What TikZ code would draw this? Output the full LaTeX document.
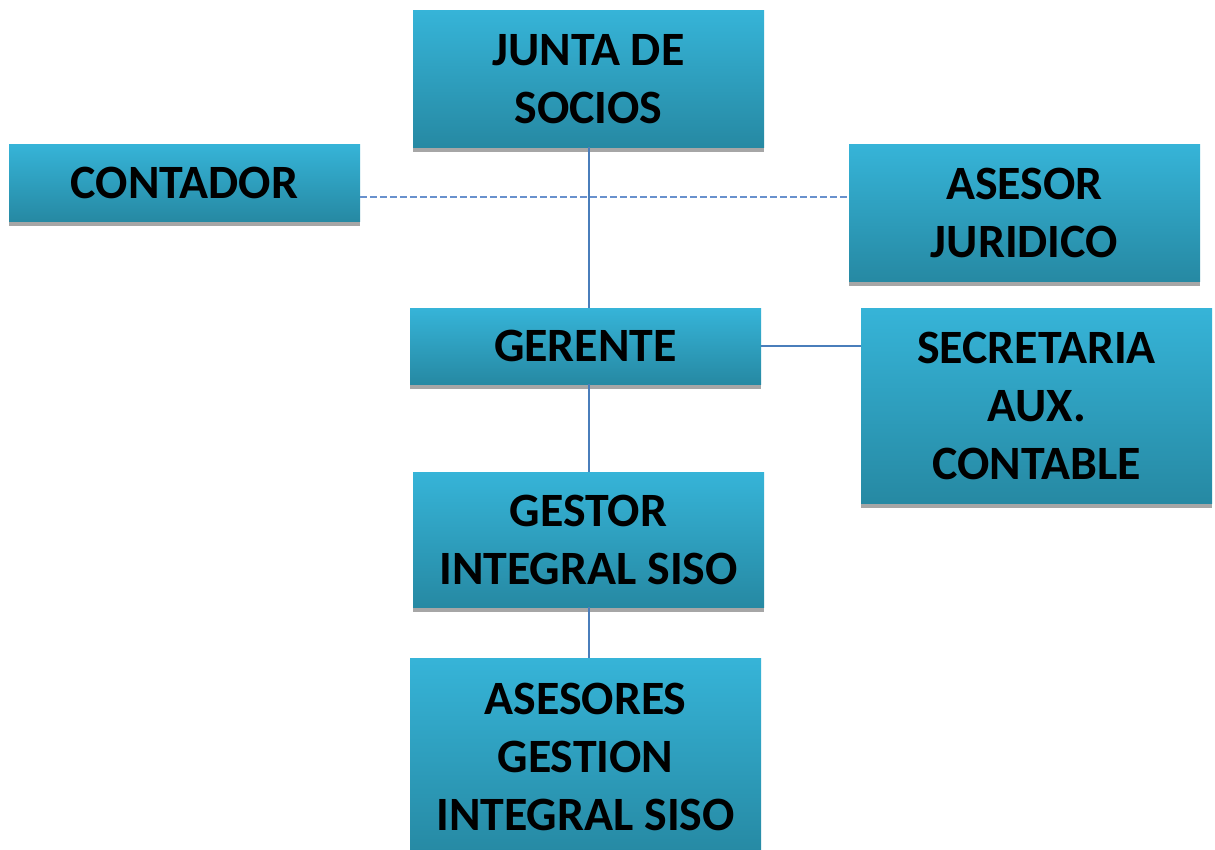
\documentclass[tikz,border=0pt]{standalone}
\usepackage{fontspec}
\setmainfont{Carlito}
\usetikzlibrary{shadows}

\newlength{\du}
\setlength{\du}{0.75pt}

\definecolor{boxtop}{RGB}{54,180,216}
\definecolor{boxbottom}{RGB}{38,137,163}
\definecolor{boxshadow}{RGB}{166,166,166}
\definecolor{linkblue}{RGB}{74,126,187}
\definecolor{dashblue}{RGB}{105,145,205}

\tikzset{
  orgbox/.style={rectangle, top color=boxtop, bottom color=boxbottom,
    minimum width=351\du, inner sep=0pt, align=center, text depth=-6\du,
    font=\bfseries\fontsize{35.9}{43.5}\selectfont,
    general shadow={fill=boxshadow, shadow yshift=-5\du}},
  orgline/.style={draw=linkblue, line width=2\du},
  staffline/.style={draw=dashblue, line width=2\du, dash pattern=on 7\du off 3\du},
}

\begin{document}
\begin{tikzpicture}[x=\du, y=-\du]
\fill[white] (0,0) rectangle (1215,850);
\useasboundingbox (0,0) rectangle (1215,850);

% boxes
\node[orgbox, minimum height=137\du] (junta) at (588.5,78.5) {JUNTA DE\\SOCIOS};
\node[orgbox, minimum height=77\du] (contador) at (184.5,182.5) {CONTADOR};
\node[orgbox, minimum height=137\du] (asesor) at (1024.5,212.5) {ASESOR\\JURIDICO};
\node[orgbox, minimum height=76\du] (gerente) at (585.5,346) {GERENTE};
\node[orgbox, minimum height=195\du] (secretaria) at (1036.5,405.5) {SECRETARIA\\AUX.\\CONTABLE};
\node[orgbox, minimum height=135\du] (gestor) at (588.5,539.5) {GESTOR\\INTEGRAL SISO};
\node[orgbox, minimum height=197\du] (asesores) at (585.5,756.5) {ASESORES\\GESTION\\INTEGRAL SISO};

% connectors
\draw[orgline] (junta.south) -- (junta.south |- gerente.north);
\draw[staffline] ([yshift=-10.9pt]contador.east) -- ([yshift=-10.9pt]contador.east -| asesor.west);
\draw[orgline] (gerente.east) -- (gerente.east -| secretaria.west);
\draw[orgline] (gestor.north |- gerente.south) -- (gestor.north);
\draw[orgline] (gestor.south) -- (gestor.south |- asesores.north);
\end{tikzpicture}
\end{document}
